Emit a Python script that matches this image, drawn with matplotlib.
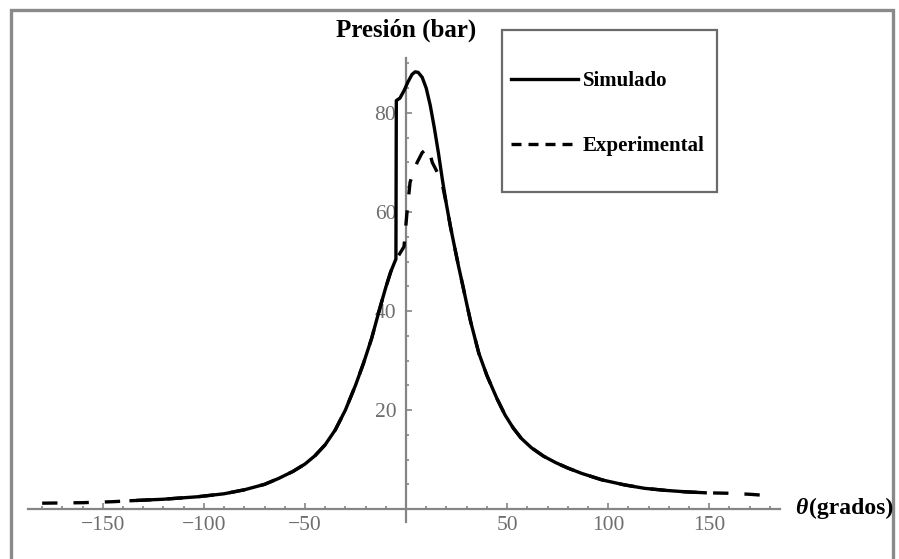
import matplotlib
matplotlib.use("Agg")
import matplotlib.pyplot as plt
from matplotlib.lines import Line2D
from matplotlib.patches import Rectangle
from matplotlib.ticker import MultipleLocator, FixedLocator

# curve (theta in degrees, pressure in bar)
sim_theta = [-136, -120, -103, -90, -80, -70, -63, -56, -50, -45, -40, -35,
             -30, -25, -21, -17, -13, -10, -7.5, -5, -4.8, -3, -1, 1, 3,
             4.5, 6, 8, 10, 12, 14, 16, 18, 20, 22, 24, 26, 28, 30, 32, 36,
             40, 45, 49, 53, 57, 62, 68, 74, 80, 87, 97, 108, 118, 128, 138, 148]
sim_p = [1.7, 2.0, 2.5, 3.1, 3.9, 5.0, 6.2, 7.6, 9.1, 10.8, 13.0, 16.0,
         20.0, 25.0, 29.5, 34.5, 40.5, 44.8, 48.0, 50.5, 82.5, 83.0, 84.5, 86.3, 87.8,
         88.3, 88.2, 87.2, 85.0, 81.5, 77.0, 72.0, 66.5, 61.5, 57.0, 53.0, 49.0, 45.3, 41.5, 37.8, 31.5,
         27.0, 22.3, 19.0, 16.4, 14.3, 12.4, 10.7, 9.4, 8.3, 7.2, 5.9, 4.9, 4.2, 3.8, 3.5, 3.3]

exp_theta = [-180, -160, -145, -136, -120, -103, -90, -80, -70, -63, -56, -50,
             -45, -40, -35, -30, -25, -21, -17, -13, -10, -7.5, -4, -1,
             0.5, 2, 4, 5.5, 8, 11, 13, 15.5, 18, 20, 22, 24, 26, 28, 30, 32,
             36, 40, 45, 49, 53, 57, 62, 68, 74, 80, 87, 97, 108, 118, 128,
             138, 148, 160, 170, 180]
exp_p = [1.2, 1.3, 1.5, 1.7, 2.0, 2.5, 3.1, 3.9, 5.0, 6.2, 7.6, 9.1,
         10.8, 13.0, 16.0, 20.0, 25.0, 29.5, 34.5, 40.5, 44.8, 48.0, 51.0, 53.0,
         60.0, 66.0, 68.5, 70.0, 72.0, 73.0, 70.0, 68.0, 65.5, 61.5, 57.0, 53.0, 49.0, 45.3, 41.5, 37.8,
         31.5, 27.0, 22.3, 19.0, 16.4, 14.3, 12.4, 10.7, 9.4, 8.3, 7.2, 5.9, 4.9, 4.2, 3.8,
         3.5, 3.3, 3.2, 3.0, 2.7]

x_ticks = [-150, -100, -50, 50, 100, 150]
y_ticks = [20, 40, 60, 80]
labels = ["Simulado", "Experimental"]

W, H = 899, 559
serif = "Liberation Serif"
axis_grey = "#858585"

fig = plt.figure(figsize=(W / 100, H / 100), dpi=100)
fig.patch.set_facecolor("white")

ax = fig.add_axes([28 / W, (H - 522) / H, 752 / W, 464 / H])
ax.set_xlim(-187, 185)
ax.set_ylim(-2.6, 91.1)

ax.plot(sim_theta, sim_p, color="black", lw=2.4, solid_joinstyle="round", zorder=3)
ax.plot(exp_theta, exp_p, color="black", lw=2.4, ls=(0, (4.6, 4.8)), zorder=3)

# Mathematica-style axes crossing at the origin
for side in ("top", "right"):
    ax.spines[side].set_visible(False)
ax.spines["left"].set_position(("data", 0))
ax.spines["bottom"].set_position(("data", 0))
for side in ("left", "bottom"):
    ax.spines[side].set_color(axis_grey)
    ax.spines[side].set_linewidth(1.6)

ax.xaxis.set_major_locator(FixedLocator(x_ticks))
ax.xaxis.set_minor_locator(MultipleLocator(10))
ax.yaxis.set_major_locator(FixedLocator(y_ticks))
ax.yaxis.set_minor_locator(MultipleLocator(5))
ax.tick_params(which="both", direction="in", color=axis_grey, width=1.2)
ax.tick_params(which="major", length=4.5)
ax.tick_params(which="minor", length=2.5)
ax.tick_params(axis="x", which="major", pad=5, labelsize=15.5, labelcolor="#6e6e6e")
ax.tick_params(axis="y", which="major", pad=7, labelsize=15.5, labelcolor="#6e6e6e")
ax.set_xticklabels([f"{t}".replace("-", "\u2212") for t in x_ticks], family=serif)
ax.set_yticklabels([str(t) for t in y_ticks], family=serif)
ax.patch.set_visible(False)

# axis titles
fig.text(406 / W, 1 - 30 / H, "Presión (bar)", ha="center", va="center",
         family=serif, weight="bold", fontsize=18)
fig.text(795 / W, 1 - 508 / H, "θ", ha="left", va="center",
         family=serif, weight="bold", style="italic", fontsize=17)
fig.text(809 / W, 1 - 508 / H, "(grados)", ha="left", va="center",
         family=serif, weight="bold", fontsize=17)

# legend: box drawn separately so the padding can match the reference
handles = [Line2D([], [], color="black", lw=2.4),
           Line2D([], [], color="black", lw=2.4, ls=(0, (3.0, 2.1)))]
ax.legend(handles, labels, loc="upper left",
          bbox_to_anchor=(511 / W, 1 - 71 / H), bbox_transform=fig.transFigure,
          frameon=False, borderpad=0, borderaxespad=0,
          handlelength=3.2, handletextpad=0.25, labelspacing=2.15,
          prop={"family": serif, "weight": "bold", "size": 15})
fig.add_artist(Rectangle((502 / W, 1 - 192 / H), 215 / W, 162 / H,
                         transform=fig.transFigure, fill=False,
                         edgecolor="#6a6a6a", lw=1.6))

# outer grey frame (open at the bottom, like the cropped original)
fig.add_artist(Rectangle((11 / W, -0.05), 882 / W, 1.05 - 10 / H,
                         transform=fig.transFigure, fill=False,
                         edgecolor="#8a8a8a", lw=2.4))

fig.savefig("out.png", dpi=100)
